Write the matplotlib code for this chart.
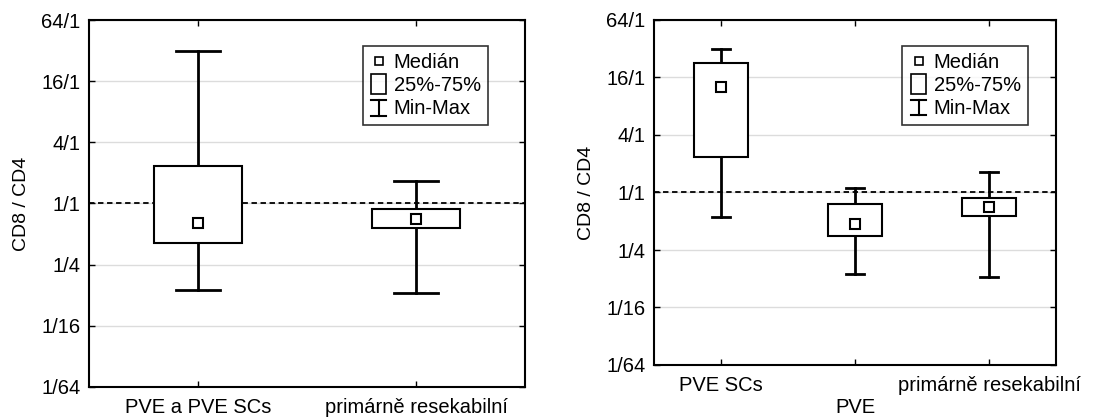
import numpy as np
import matplotlib
matplotlib.use("Agg")
import matplotlib.pyplot as plt
from matplotlib.lines import Line2D
from matplotlib.patches import Rectangle
from matplotlib.legend_handler import HandlerBase

plt.rcParams['font.family'] = ['Liberation Sans', 'DejaVu Sans']

# left panel (values in CD8/CD4 ratio)
left_groups = ["PVE a PVE SCs", "primárně resekabilní"]
left_min = [2 ** -2.82, 2 ** -2.93]
left_q1 = [2 ** -1.30, 2 ** -0.81]
left_med = [2 ** -0.64, 2 ** -0.50]
left_q3 = [2 ** 1.23, 2 ** -0.19]
left_max = [2 ** 5.0, 2 ** 0.72]

# right panel
right_groups = ["PVE SCs", "\nPVE", "primárně resekabilní"]
right_min = [2 ** -0.84, 2 ** -2.83, 2 ** -2.93]
right_q1 = [2 ** 1.25, 2 ** -1.51, 2 ** -0.82]
right_med = [2 ** 3.66, 2 ** -1.10, 2 ** -0.50]
right_q3 = [2 ** 4.49, 2 ** -0.41, 2 ** -0.20]
right_max = [2 ** 5.0, 2 ** 0.15, 2 ** 0.72]

yticks = [1 / 64, 1 / 16, 1 / 4, 1, 4, 16, 64]
ytick_labels = ["1/64", "1/16", "1/4", "1/1", "4/1", "16/1", "64/1"]


class WhiskerHandler(HandlerBase):
    def create_artists(self, legend, orig, xd, yd, w, h, fontsize, trans):
        cx = xd + w / 2
        y0, y1 = yd - h * 0.1, yd + h * 1.0
        l1 = Line2D([cx, cx], [y0, y1], color='black', lw=1.5, transform=trans)
        l2 = Line2D([cx - w * 0.4, cx + w * 0.4], [y1, y1], color='black', lw=1.5, transform=trans)
        l3 = Line2D([cx - w * 0.4, cx + w * 0.4], [y0, y0], color='black', lw=1.5, transform=trans)
        return [l1, l2, l3]


class BoxHandler(HandlerBase):
    def create_artists(self, legend, orig, xd, yd, w, h, fontsize, trans):
        r = Rectangle((xd + w * 0.1, yd - h * 0.2), w * 0.8, h * 1.4, fill=False,
                      ec='black', lw=1.2, transform=trans)
        return [r]


class Whisk:
    pass


class Bx:
    pass


def draw_panel(ax, groups, mn, q1, med, q3, mx, box_w, cap_w, leg_anchor):
    xs = np.arange(1, len(groups) + 1)
    for x, a, b, m, c, d in zip(xs, mn, q1, med, q3, mx):
        ax.plot([x, x], [a, b], color='black', lw=2, zorder=3)
        ax.plot([x, x], [c, d], color='black', lw=2, zorder=3)
        ax.plot([x - cap_w, x + cap_w], [a, a], color='black', lw=2, zorder=3)
        ax.plot([x - cap_w, x + cap_w], [d, d], color='black', lw=2, zorder=3)
        ax.add_patch(Rectangle((x - box_w, b), 2 * box_w, c - b, fill=True, fc='white',
                               ec='black', lw=1.5, zorder=3))
        ax.plot([x], [m], marker='s', ms=6.5, mfc='white', mec='black', mew=1.5, ls='none', zorder=4)
    ax.set_yscale('log', base=2)
    ax.set_ylim(1 / 64, 64)
    ax.set_xlim(0.5, len(groups) + 0.5)
    ax.set_yticks(yticks)
    ax.set_yticklabels(ytick_labels, fontsize=14.5)
    ax.minorticks_off()
    ax.set_xticks(xs)
    ax.set_xticklabels(groups, fontsize=14.5)
    ax.tick_params(direction='in', length=4, top=True, right=True, width=1)
    ax.tick_params(axis='x', pad=8)
    ax.tick_params(axis='y', pad=6)
    ax.yaxis.grid(True, color='#dcdcdc', lw=1)
    ax.set_axisbelow(True)
    ax.axhline(1, color='black', lw=1.3, ls=(0, (3, 2)), zorder=2)
    ax.set_ylabel("CD8 / CD4", fontsize=14, labelpad=8)
    for s in ax.spines.values():
        s.set_linewidth(1.5)

    handles = [Line2D([], [], marker='s', ms=6, mfc='white', mec='black', mew=1.2, ls='none'),
               Bx(), Whisk()]
    leg = ax.legend(handles, ["Medián", "25%-75%", "Min-Max"], loc='upper right',
                    fontsize=14.5, frameon=True, fancybox=False, edgecolor='black',
                    handler_map={Whisk: WhiskerHandler(), Bx: BoxHandler()},
                    handlelength=0.9, handletextpad=0.3, labelspacing=0.2,
                    borderpad=0.35, borderaxespad=0, bbox_to_anchor=leg_anchor)
    leg.get_frame().set_linewidth(1.2)
    return ax


fig = plt.figure(figsize=(10.95, 4.19), dpi=100)
ax1 = fig.add_axes([89 / 1095, 32 / 419, 436 / 1095, 367 / 419])
ax2 = fig.add_axes([654 / 1095, 54 / 419, 402 / 1095, 345 / 419])

draw_panel(ax1, left_groups, left_min, left_q1, left_med, left_q3, left_max, 0.2, 0.1, (0.915, 0.929))
draw_panel(ax2, right_groups, right_min, right_q1, right_med, right_q3, right_max, 0.2, 0.07, (0.930, 0.925))

fig.savefig("out.png", dpi=100)
